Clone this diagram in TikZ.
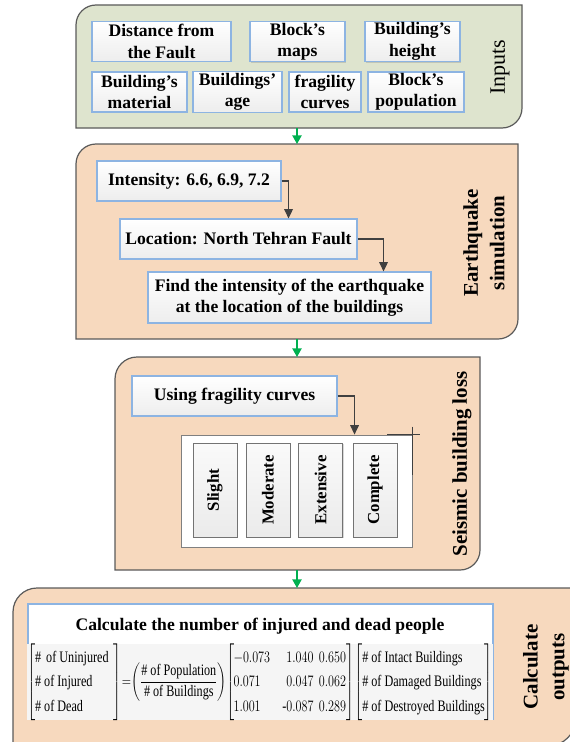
\documentclass[tikz,border=0pt]{standalone}
\usepackage{amsmath}
\usepackage{graphicx}
\usepackage{fontspec}
\setmainfont{Liberation Serif}
\usepackage{tikz}
\usetikzlibrary{arrows.meta,shadows}

\definecolor{inputgreen}{RGB}{222,228,206}
\definecolor{stagepeach}{RGB}{247,217,190}
\definecolor{boxblue}{RGB}{141,180,226}
\definecolor{edgegray}{RGB}{90,90,90}
\definecolor{arrowgreen}{RGB}{0,176,80}

\tikzset{
  stage/.style={draw=edgegray, line width=0.9pt},
  infobox/.style={draw=boxblue, line width=0.8pt, top color=white, bottom color=black!7,
    align=center, inner sep=1pt, font=\fontsize{13.2}{16}\selectfont\bfseries,
    drop shadow={shadow xshift=0.8pt, shadow yshift=-0.8pt, opacity=0.3}},
  damage/.style={draw=black!55, line width=0.6pt, top color=black!2, bottom color=black!8,
    minimum width=33pt, minimum height=70.5pt, inner sep=0pt,
    font=\fontsize{12.6}{15}\selectfont\bfseries,
    drop shadow={shadow xshift=0.8pt, shadow yshift=-0.8pt, opacity=0.3}},
  stagelabel/.style={rotate=90, align=center, font=\fontsize{15.7}{20}\selectfont\bfseries},
  flowline/.style={draw=black!75, line width=0.8pt, -{Triangle[length=7pt,width=6.5pt]}},
  nextstage/.style={draw=arrowgreen, line width=1pt, -{Triangle[length=6.5pt,width=7pt]}}
}

\begin{document}
\begin{tikzpicture}[x=0.75pt, y=-0.75pt]
    \useasboundingbox (0,0) rectangle (570,742);
    \clip (0,0) rectangle (570,742);

    % Stage frames
    \draw[stage, fill=inputgreen] (76,128) -- (76,25) arc[start angle=180, end angle=270, radius=20]
        -- (522,5) -- (522,108) arc[start angle=0, end angle=90, radius=20] -- cycle;
    \draw[stage, fill=stagepeach] (76,339) -- (76,164) arc[start angle=180, end angle=270, radius=20]
        -- (518,144) -- (518,319) arc[start angle=0, end angle=90, radius=20] -- cycle;
    \draw[stage, fill=stagepeach] (115,570) -- (115,379) arc[start angle=180, end angle=270, radius=22]
        -- (480,357) -- (480,550) arc[start angle=0, end angle=90, radius=20] -- cycle;
    \draw[stage, fill=stagepeach] (13,750) -- (13,612) arc[start angle=180, end angle=270, radius=24]
        -- (576,588) -- (576,718) arc[start angle=0, end angle=90, radius=28] -- cycle;

    % Inputs
    \node[infobox, minimum width=104.25pt, minimum height=29.5pt] (distance) at (161.5,41.5) {Distance from\\the Fault};
    \node[infobox, minimum width=71.25pt, minimum height=29.5pt] (maps) at (297.5,41.5) {Block’s\\maps};
    \node[infobox, minimum width=71.25pt, minimum height=29.5pt] (height) at (412.5,41.5) {Building’s\\height};
    \node[infobox, minimum width=71.25pt, minimum height=30pt] (material) at (139.5,92) {Building’s\\material};
    \node[infobox, minimum width=66.75pt, minimum height=30pt] (age) at (237.5,92) {Buildings’\\age};
    \node[infobox, minimum width=54pt, minimum height=30pt] (curves) at (325,92) {fragility\\curves};
    \node[infobox, minimum width=72pt, minimum height=30pt] (population) at (416,92) {Block’s\\population};
    \node[rotate=90, font=\fontsize{16.5}{20}\selectfont] (inputs) at (500,67) {Inputs};

    % Earthquake simulation
    \node[infobox, minimum width=138pt, minimum height=30pt] (intensity) at (189,181) {Intensity: 6.6, 6.9, 7.2};
    \node[infobox, minimum width=177.75pt, minimum height=30pt] (location) at (238.5,239) {Location: North Tehran Fault};
    \node[infobox, minimum width=212.25pt, minimum height=38.25pt] (find) at (289.5,297.5) {Find the intensity of the earthquake\\at the location of the buildings};
    \node[stagelabel] (quake) at (484,243) {Earthquake\\simulation};
    \draw[flowline] (intensity.east) -- ++(7,0) coordinate (k1) -- (k1 |- location.north);
    \draw[flowline] (location.east) -- ++(26,0) coordinate (k2) -- (k2 |- find.north);

    % Seismic building loss
    \node[infobox, minimum width=153.75pt, minimum height=30pt] (using) at (234.5,396) {Using fragility curves};
    \node[draw=black!50, fill=white, line width=0.7pt, minimum width=173.25pt, minimum height=84pt,
        drop shadow={shadow xshift=0.8pt, shadow yshift=-0.8pt, opacity=0.3}] (states) at (296.5,491) {};
    \node[damage] (slight) at (215,490) {\rotatebox{90}{Slight}};
    \node[damage] (moderate) at (268,490) {\rotatebox{90}{Moderate}};
    \node[damage] (extensive) at (320.5,490) {\rotatebox{90}{Extensive}};
    \node[damage] (complete) at (375,490) {\rotatebox{90}{Complete}};
    \node[stagelabel] (loss) at (462,464) {Seismic building loss};
    \draw[flowline] (using.east) -- ++(17,0) coordinate (k3) -- (k3 |- states.north);
    \draw[black!75, line width=0.6pt] (states.north east) ++(-25,0) -- ++(33,0);
    \draw[black!75, line width=0.6pt] (states.north east) ++(0,-8) -- ++(0,48);

    % Calculate outputs
    \node[draw=boxblue, fill=white, line width=0.8pt, minimum width=348.75pt, minimum height=86.25pt,
        drop shadow={shadow xshift=0.8pt, shadow yshift=-0.8pt, opacity=0.3}] (calc) at (260.5,661.5) {};
    \node[font=\fontsize{13.2}{16}\selectfont\bfseries] (title) at (260,626) {Calculate the number of injured and dead people};
    \node[fill=black!4, inner sep=0pt, font=\fontsize{12}{14.5}\selectfont] (equation) at (260,682) {\scalebox{0.76}[1]{%
        \renewcommand{\arraystretch}{1.29}%
        $\left[\begin{array}{@{}l@{\hspace{5pt}}}
            \text{\# \,of Uninjured}\\ \text{\# of Injured}\\ \text{\# of Dead}
        \end{array}\right]
        \!{=}\!\left(\dfrac{\text{\# of Population}}{\text{\# of Buildings}}\right)\!
        \left[\begin{array}{@{\hspace{-1pt}}l@{\hspace{1em}}r@{\hspace{0.45em}}l@{}}
            -0.073 & 1.040 & 0.650\\ 0.071 & 0.047 & 0.062\\ 1.001 & \text{-}0.087 & 0.289
        \end{array}\right]\!
        \left[\begin{array}{@{}l@{}}
            \text{\# of Intact Buildings}\\ \text{\# of Damaged Buildings}\\ \text{\# of Destroyed Buildings}
        \end{array}\right]$}};
    \node[stagelabel] (outputs) at (546,667) {Calculate\\outputs};

    % Links between stages
    \coordinate (inputs-s) at (297,128);
    \coordinate (quake-n) at (297,144);
    \coordinate (quake-s) at (297,339);
    \coordinate (loss-n) at (297,357);
    \coordinate (loss-s) at (297,570);
    \coordinate (outputs-n) at (297,588);
    \draw[nextstage] (inputs-s) -- (quake-n);
    \draw[nextstage] (quake-s) -- (loss-n);
    \draw[nextstage] (loss-s) -- (outputs-n);
\end{tikzpicture}
\end{document}
